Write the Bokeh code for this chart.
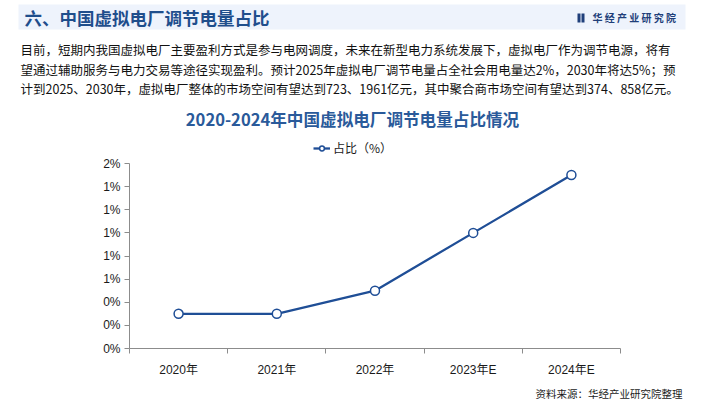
import numpy as np
from bokeh.plotting import figure
from bokeh.layouts import column
from bokeh.models import Range1d, FixedTicker, Legend, LegendItem, ColumnDataSource
from bokeh.core.properties import value
from bokeh.embed import file_html
from bokeh.resources import INLINE

# ---- data ----
categories = ["2020年", "2021年", "2022年", "2023年E", "2024年E"]
share_pct = [0.3, 0.3, 0.5, 1.0, 1.5]
y_ticks = [0.0, 0.2, 0.4, 0.6, 0.8, 1.0, 1.2, 1.4, 1.6]
y_tick_labels = ["0%", "0%", "0%", "1%", "1%", "1%", "1%", "1%", "2%"]

header_title = "六、中国虚拟电厂调节电量占比"
brand = "华 经 产 业 研 究 院"
paragraph = [
    "目前，短期内我国虚拟电厂主要盈利方式是参与电网调度，未来在新型电力系统发展下，虚拟电厂作为调节电源，将有",
    "望通过辅助服务与电力交易等途径实现盈利。预计2025年虚拟电厂调节电量占全社会用电量达2%，2030年将达5%；预",
    "计到2025、2030年，虚拟电厂整体的市场空间有望达到723、1961亿元，其中聚合商市场空间有望达到374、858亿元。",
]
chart_title = "2020-2024年中国虚拟电厂调节电量占比情况"
series_name = "占比（%）"
source_note = "资料来源：华经产业研究院整理"

CJK = "Noto Sans CJK SC"
NUM = "Liberation Sans, Noto Sans CJK SC"
BLUE = "#1f4e96"
W = 704
HA, HB, HC = 130, 254, 16


def blank_fig(h):
    f = figure(width=W, height=h, output_backend="svg", toolbar_location=None,
               x_range=Range1d(0, W), y_range=Range1d(h, 0),
               x_axis_type=None, y_axis_type=None, min_border=0, frame_align=False)
    f.outline_line_color = None
    f.grid.grid_line_color = None
    f.background_fill_color = "white"
    f.border_fill_color = "white"
    return f


# ---- header figure (pixel coordinates, y downwards) ----
a = blank_fig(HA)
a.quad(left=[18], right=[685], top=[4], bottom=[29], fill_color="#eef3fc", line_color=None)
a.text(x=[24], y=[17], text=[header_title], text_font=value(CJK), text_font_size=value("17.5px"),
       text_font_style="bold", text_color="#1f4e8c", text_baseline="middle")
a.quad(left=[577, 581], right=[580, 584], top=[13, 13], bottom=[22, 22],
       fill_color="#1f3f7a", line_color=None)
a.text(x=[592], y=[17], text=[brand], text_font=value(CJK), text_font_size=value("10px"),
       text_font_style="bold", text_color="#1f3f7a", text_baseline="middle")
a.text(x=[20] * len(paragraph), y=[49 + 19.5 * i for i in range(len(paragraph))], text=paragraph,
       text_font=value(CJK), text_font_size=value("12.5px"), text_color="#111111",
       text_baseline="middle")
a.text(x=[352], y=[118], text=[chart_title], text_font=value(CJK), text_font_size=value("16.6px"),
       text_font_style="bold", text_color="#2a5a9a", text_align="center", text_baseline="middle")

# ---- chart figure ----
frame_top_px, top_tick_px, frame_bottom_px = 0, 33, 218   # pixel layout inside the chart figure
y_end = y_ticks[-1] * (frame_bottom_px - frame_top_px) / (frame_bottom_px - top_tick_px)
b = figure(width=W, height=HB, output_backend="svg", toolbar_location=None,
           x_range=Range1d(0, len(categories)), y_range=Range1d(y_ticks[0], y_end),
           min_border_left=129, min_border_right=84, min_border_top=frame_top_px,
           min_border_bottom=HB - frame_bottom_px, frame_align=False)
b.outline_line_color = None
b.grid.grid_line_color = None
b.background_fill_color = "white"
b.border_fill_color = "white"

xs = np.arange(len(categories)) + 0.5
src = ColumnDataSource(dict(x=xs, y=share_pct))

b.xaxis.ticker = FixedTicker(ticks=list(xs), minor_ticks=list(range(len(categories) + 1)))
b.xaxis.major_label_overrides = {float(x): c for x, c in zip(xs, categories)}
b.xaxis.major_tick_out = 0
b.xaxis.major_tick_in = 0
b.xaxis.minor_tick_out = 5
b.xaxis.minor_tick_in = 0
b.xaxis.major_label_standoff = 9
b.yaxis.ticker = FixedTicker(ticks=y_ticks, minor_ticks=[])
b.yaxis.bounds = (y_ticks[0], y_ticks[-1])
b.yaxis.major_label_overrides = {t: l for t, l in zip(y_ticks, y_tick_labels)}
b.yaxis.major_tick_out = 5
b.yaxis.major_tick_in = 0
b.yaxis.minor_tick_out = 0
b.yaxis.major_label_standoff = 4
for ax in (b.xaxis, b.yaxis):
    ax.axis_line_color = "#8c8c8c"
    ax.major_tick_line_color = "#8c8c8c"
    ax.minor_tick_line_color = "#8c8c8c"
    ax.major_label_text_font = NUM
    ax.major_label_text_font_size = "12px"
    ax.major_label_text_color = "#1a1a1a"

ln = b.line("x", "y", source=src, line_color=BLUE, line_width=2.3)
sc = b.scatter("x", "y", source=src, size=9, marker="circle", fill_color="white",
               line_color=BLUE, line_width=1.5)

legend = Legend(items=[LegendItem(label=series_name, renderers=[ln, sc])],
                location=(184, 192), orientation="horizontal",
                border_line_color=None, background_fill_alpha=0,
                label_text_font=CJK, label_text_font_size="12px", label_text_color="#1a1a1a",
                glyph_width=17, glyph_height=12, padding=0, margin=0, label_standoff=3)
b.add_layout(legend, "center")

# ---- footer figure ----
c = blank_fig(HC)
c.text(x=[682], y=[9], text=[source_note], text_font=value(CJK), text_font_size=value("10.5px"),
       text_color="#1a1a1a", text_align="right", text_baseline="middle")

layout = column(a, b, c, spacing=0)
open("out.html", "w").write(file_html(layout, INLINE))
